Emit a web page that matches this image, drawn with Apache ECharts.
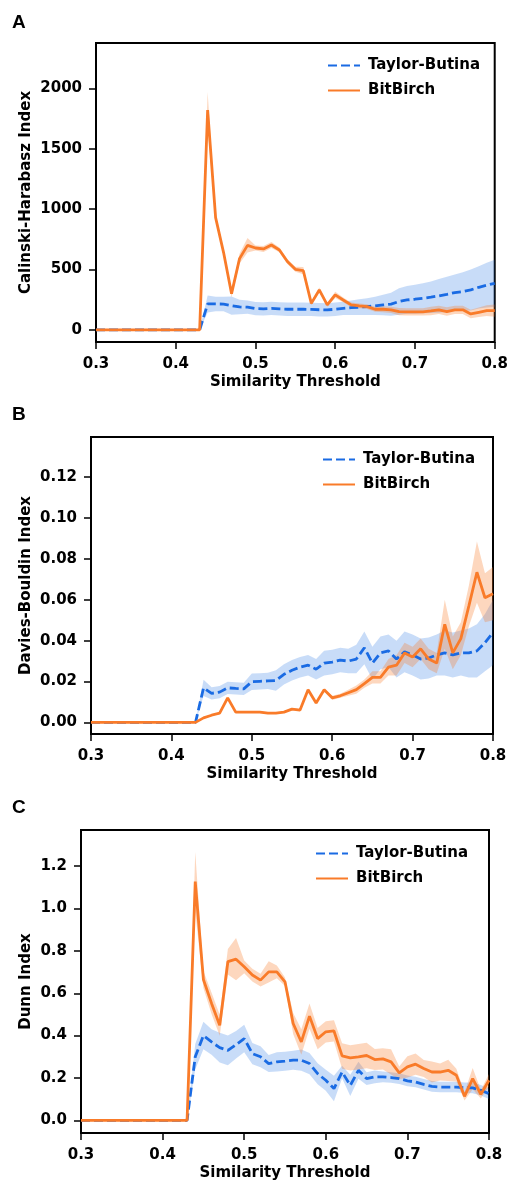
<!DOCTYPE html>
<html>
<head>
<meta charset="utf-8">
<script src="https://cdn.jsdelivr.net/npm/echarts@6/dist/echarts.min.js"></script>
<style>
html,body{margin:0;padding:0;background:#fff;}
#chart{width:511px;height:1182px;}
</style>
</head>
<body>
<div id="chart"></div>
<script>
// ---------- data ----------
const thresholds = [0.30,0.31,0.32,0.33,0.34,0.35,0.36,0.37,0.38,0.39,0.40,0.41,0.42,0.43,
  0.44,0.45,0.46,0.47,0.48,0.49,0.50,0.51,0.52,0.53,0.54,0.55,0.56,0.57,0.58,0.59,0.60,
  0.61,0.62,0.63,0.64,0.65,0.66,0.67,0.68,0.69,0.70,0.71,0.72,0.73,0.74,0.75,0.76,0.77,0.78,0.79,0.80];
const xTicks = [0.3,0.4,0.5,0.6,0.7,0.8];

// Panel A: Calinski-Harabasz
const chTaylor = [0,0,0,0,0,0,0,0,0,0,0,0,0,0,
  215,215,214,201,190,188,176,175,179,174,171,171,171,170,167,166,171,
  178,184,188,193,199,207,213,235,248,254,262,271,282,295,309,317,331,353,370,386];
const chTaylorSpread = [0,0,0,0,0,0,0,0,0,0,0,0,0,0,
  70,60,60,75,60,55,55,55,55,55,55,55,55,55,55,55,55,
  55,60,65,70,75,85,95,110,115,120,125,130,140,145,150,160,170,175,185,195];
const chBitBirch = [0,0,0,0,0,0,0,0,0,0,0,0,0,0,
  1820,930,640,300,590,700,678,670,703,662,566,502,490,220,331,207,290,
  248,207,199,193,171,171,166,152,150,150,150,157,166,152,166,166,132,146,160,160];
const chBitBirchSpread = [0,0,0,0,0,0,0,0,0,0,0,0,0,0,
  150,20,20,30,40,60,20,25,25,20,20,20,30,15,20,15,25,
  20,20,20,20,20,25,25,30,30,30,30,35,35,35,35,35,35,40,45,50];
const chTicks = [0,500,1000,1500,2000];

// Panel B: Davies-Bouldin
const dbTaylor = [0,0,0,0,0,0,0,0,0,0,0,0,0,0,
  0.0169,0.0142,0.0148,0.0169,0.0166,0.0164,0.0199,0.0201,0.0203,0.0205,0.0235,0.0255,0.027,0.028,0.026,0.029,0.0295,
  0.0305,0.030,0.031,0.0365,0.029,0.034,0.035,0.031,0.0345,0.033,0.031,0.0315,0.033,0.034,0.033,0.034,0.034,0.035,0.039,0.044];
const dbTaylorSpread = [0,0,0,0,0,0,0,0,0,0,0,0,0,0,
  0.004,0.003,0.003,0.003,0.003,0.003,0.004,0.004,0.004,0.005,0.005,0.005,0.005,0.005,0.005,0.006,0.006,
  0.006,0.006,0.007,0.008,0.008,0.008,0.008,0.009,0.010,0.010,0.010,0.010,0.010,0.011,0.011,0.011,0.012,0.013,0.014,0.016];
const dbBitBirch = [0,0,0,0,0,0,0,0,0,0,0,0,0,0,
  0.0022,0.0035,0.0045,0.012,0.005,0.005,0.005,0.005,0.0045,0.0045,0.005,0.0065,0.006,0.016,0.0095,0.016,0.012,
  0.013,0.0145,0.016,0.019,0.022,0.022,0.027,0.028,0.034,0.032,0.036,0.031,0.029,0.048,0.034,0.041,0.057,0.0735,0.061,0.063];
const dbBitBirchSpread = [0,0,0,0,0,0,0,0,0,0,0,0,0,0,
  0.0004,0.0004,0.0004,0.0005,0.0004,0.0004,0.0004,0.0004,0.0004,0.0004,0.0004,0.0005,0.0005,0.0006,0.0006,0.0006,0.001,
  0.001,0.0015,0.002,0.002,0.003,0.003,0.004,0.005,0.005,0.005,0.005,0.005,0.005,0.012,0.008,0.008,0.010,0.015,0.012,0.013];
const dbTicks = [0,0.02,0.04,0.06,0.08,0.10,0.12];

// Panel C: Dunn
const dunnTaylor = [0,0,0,0,0,0,0,0,0,0,0,0,0,0,
  0.30,0.40,0.37,0.343,0.33,0.357,0.386,0.315,0.30,0.268,0.276,0.279,0.284,0.284,0.268,0.22,0.189,
  0.15,0.228,0.165,0.236,0.197,0.205,0.205,0.202,0.197,0.186,0.181,0.17,0.16,0.157,0.157,0.157,0.154,0.153,0.142,0.126];
const dunnTaylorSpread = [0,0,0,0,0,0,0,0,0,0,0,0,0,0,
  0.06,0.065,0.06,0.07,0.07,0.065,0.065,0.05,0.05,0.04,0.045,0.045,0.045,0.05,0.05,0.05,0.05,
  0.06,0.03,0.05,0.04,0.03,0.03,0.025,0.025,0.025,0.025,0.025,0.025,0.025,0.025,0.025,0.025,0.025,0.025,0.025,0.025];
const dunnBitBirch = [0,0,0,0,0,0,0,0,0,0,0,0,0,0,
  1.127,0.665,0.552,0.449,0.749,0.761,0.725,0.686,0.662,0.701,0.701,0.654,0.457,0.370,0.492,0.386,0.418,
  0.422,0.304,0.295,0.300,0.306,0.287,0.290,0.276,0.224,0.252,0.265,0.245,0.228,0.228,0.236,0.213,0.113,0.197,0.123,0.189];
const dunnBitBirchSpread = [0,0,0,0,0,0,0,0,0,0,0,0,0,0,
  0.14,0.04,0.05,0.05,0.06,0.10,0.03,0.03,0.03,0.05,0.03,0.02,0.05,0.06,0.06,0.05,0.05,
  0.05,0.06,0.06,0.06,0.06,0.05,0.05,0.06,0.03,0.05,0.05,0.04,0.05,0.04,0.05,0.03,0.02,0.05,0.02,0.03];
const dunnTicks = [0,0.2,0.4,0.6,0.8,1.0,1.2];

const panelLetters = ['A','B','C'];
const yTitles = ['Calinski-Harabasz Index','Davies-Bouldin Index','Dunn Index'];
const xTitle = 'Similarity Threshold';
const seriesNames = ['Taylor-Butina','BitBirch'];

// ---------- styling ----------
const BLUE = '#1a6be3';
const ORANGE = '#f97b29';
const FONT = 'DejaVu Sans';
const TXT = '#000';

const panels = [
  {taylor: chTaylor, taylorSd: chTaylorSpread, bit: chBitBirch, bitSd: chBitBirchSpread, ticks: chTicks,
   ymin: -100, ymax: 2375, fmt: v => String(v),
   grid: {left: 96, top: 43, width: 402, height: 299}, nameGap: 62,
   legend: {left: 322, top: 53}, letterY: 23},
  {taylor: dbTaylor, taylorSd: dbTaylorSpread, bit: dbBitBirch, bitSd: dbBitBirchSpread, ticks: dbTicks,
   ymin: -0.0057, ymax: 0.1397, fmt: v => v.toFixed(2),
   grid: {left: 91, top: 437, width: 402, height: 297}, nameGap: 57,
   legend: {left: 317, top: 447}, letterY: 415},
  {taylor: dunnTaylor, taylorSd: dunnTaylorSpread, bit: dunnBitBirch, bitSd: dunnBitBirchSpread, ticks: dunnTicks,
   ymin: -0.06, ymax: 1.371, fmt: v => v.toFixed(1),
   grid: {left: 81, top: 830, width: 408, height: 303}, nameGap: 47,
   legend: {left: 310, top: 841}, letterY: 808}
];

const grids = [], xAxes = [], yAxes = [], series = [], legends = [], graphics = [];

// confidence band drawn as one polygon through the axis scales
function bandSeries(g, mean, sd, color, alpha) {
  const data = thresholds.map((x, i) => [x, mean[i] - sd[i], mean[i] + sd[i]]);
  return {
    type: 'custom', xAxisIndex: g, yAxisIndex: g, silent: true, animation: false,
    data: data, encode: {x: 0, y: [1, 2]}, clip: true,
    renderItem: function (params, api) {
      if (params.dataIndex !== 0) return null;
      const upper = data.map(d => api.coord([d[0], d[2]]));
      const lower = data.map(d => api.coord([d[0], d[1]])).reverse();
      return {type: 'polygon', shape: {points: upper.concat(lower)},
        style: {fill: color, opacity: alpha, stroke: null}};
    }
  };
}

panels.forEach((p, g) => {
  grids.push(Object.assign({show: true, borderColor: '#000', borderWidth: 2, backgroundColor: 'transparent'}, p.grid));
  xAxes.push({
    type: 'value', gridIndex: g, min: 0.3, max: 0.8,
    name: xTitle, nameLocation: 'middle', nameGap: 33, nameMoveOverlap: false,
    nameTextStyle: {fontFamily: FONT, fontWeight: 'bold', fontSize: 15, color: TXT},
    axisLine: {show: false, onZero: false},
    splitLine: {show: false},
    axisTick: {show: true, inside: false, length: 7, lineStyle: {color: '#000', width: 1.5}, customValues: xTicks},
    axisLabel: {fontFamily: FONT, fontWeight: 'bold', fontSize: 15, color: TXT, margin: 15,
      customValues: xTicks, formatter: v => v.toFixed(1)}
  });
  yAxes.push({
    type: 'value', gridIndex: g, min: p.ymin, max: p.ymax,
    name: yTitles[g], nameLocation: 'middle', nameGap: p.nameGap, nameRotate: 90, nameMoveOverlap: false,
    nameTextStyle: {fontFamily: FONT, fontWeight: 'bold', fontSize: 15, color: TXT},
    axisLine: {show: false, onZero: false},
    splitLine: {show: false},
    axisTick: {show: true, inside: false, length: 7, lineStyle: {color: '#000', width: 1.5}, customValues: p.ticks},
    axisLabel: {fontFamily: FONT, fontWeight: 'bold', fontSize: 15, color: TXT, margin: 14,
      customValues: p.ticks, formatter: p.fmt}
  });
  // Taylor-Butina line, then band; BitBirch line, then band (seaborn order)
  series.push({type: 'line', name: seriesNames[0], xAxisIndex: g, yAxisIndex: g,
    data: thresholds.map((x, i) => [x, p.taylor[i]]), symbol: 'none', animation: false,
    lineStyle: {color: BLUE, width: 2.8, type: [9, 4]}, itemStyle: {color: BLUE}});
  series.push(bandSeries(g, p.taylor, p.taylorSd, BLUE, 0.24));
  series.push({type: 'line', name: seriesNames[1], xAxisIndex: g, yAxisIndex: g,
    data: thresholds.map((x, i) => [x, p.bit[i]]), symbol: 'none', animation: false,
    lineStyle: {color: ORANGE, width: 2.8}, itemStyle: {color: ORANGE}});
  series.push(bandSeries(g, p.bit, p.bitSd, ORANGE, 0.3));

  legends.push({
    data: seriesNames, orient: 'vertical', left: p.legend.left, top: p.legend.top,
    itemWidth: 32, itemHeight: 14, itemGap: 10, selectedMode: false,
    itemStyle: {opacity: 0},
    textStyle: {fontFamily: FONT, fontWeight: 'bold', fontSize: 15, color: TXT, padding: [0, 0, 0, 3]}
  });
  graphics.push({type: 'text', left: 12, top: p.letterY - 10,
    style: {text: panelLetters[g], font: 'bold 19px "Liberation Sans"', fill: '#000'}});
});

const chart = echarts.init(document.getElementById('chart'), null, {renderer: 'canvas'});
chart.setOption({
  animation: false,
  backgroundColor: '#fff',
  grid: grids, xAxis: xAxes, yAxis: yAxes, series: series, legend: legends, graphic: graphics
});
</script>
</body>
</html>
